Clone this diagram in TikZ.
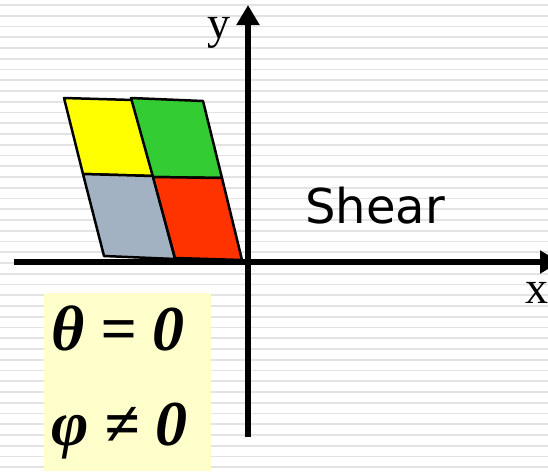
\documentclass[tikz,border=0pt]{standalone}
\usepackage{fontspec}
\setmainfont{Liberation Serif}
\newfontfamily\verd{DejaVu Sans}
\usetikzlibrary{arrows.meta}
\definecolor{stripe}{HTML}{E3E3E3}
\definecolor{boxyellow}{HTML}{FFFFCC}
\definecolor{qyellow}{HTML}{FFFF00}
\definecolor{qgreen}{HTML}{33CC33}
\definecolor{qgray}{HTML}{A2B2C2}
\definecolor{qred}{HTML}{FF3300}
\tikzset{
  quad/.style={draw=black, line width=2.5pt, line join=round},
  axis/.style={line width=5.5pt, -{Triangle[length=20pt,width=22pt]}},
  axlabel/.style={font=\fontsize{46}{46}\selectfont, inner sep=0pt},
  eqn/.style={font=\fontsize{64}{64}\selectfont\bfseries\itshape, inner sep=0pt, anchor=base west}
}
\begin{document}
\begin{tikzpicture}[x=1pt,y=-1pt]
\useasboundingbox (0,0) rectangle (548,471);
\clip (0,0) rectangle (548,471);
\fill[white] (0,0) rectangle (548,471);
% background stripes
\foreach \i in {0,...,43} {
  \draw[stripe, line width=1.8pt] (0,{5+10.75*\i}) -- (548,{5+10.75*\i});
}
% label box
\fill[boxyellow] (44,293) rectangle (211,471);
% sheared squares
\draw[quad, fill=qyellow] (64,98) -- (133,100) -- (153,176) -- (83,174) -- cycle;
\draw[quad, fill=qgreen] (131,98) -- (203,101) -- (222,178) -- (153,177) -- cycle;
\draw[quad, fill=qgray] (83,174) -- (153,176) -- (175,259) -- (104,256) -- cycle;
\draw[quad, fill=qred] (153,177) -- (222,178) -- (242,260) -- (175,258) -- cycle;
% axes
\coordinate (xs) at (14,262);
\coordinate (xe) at (560,262);
\coordinate (ys) at (248,437);
\coordinate (ye) at (248,5);
\draw[axis] (xs) -- (xe);
\draw[axis] (ys) -- (ye);
\node[axlabel, anchor=base] (ylab) at (219,38) {y};
\node[axlabel, anchor=base] (xlab) at (537,303) {x};
\node[font=\verd\fontsize{48}{48}\selectfont, inner sep=0pt, anchor=base west] (shear) at (305,223) {Shear};
\node[eqn] (eq1) at (51,350) {θ = 0};
\node[eqn] (eq2) at (51,445) {φ ≠ 0};
\end{tikzpicture}
\end{document}
